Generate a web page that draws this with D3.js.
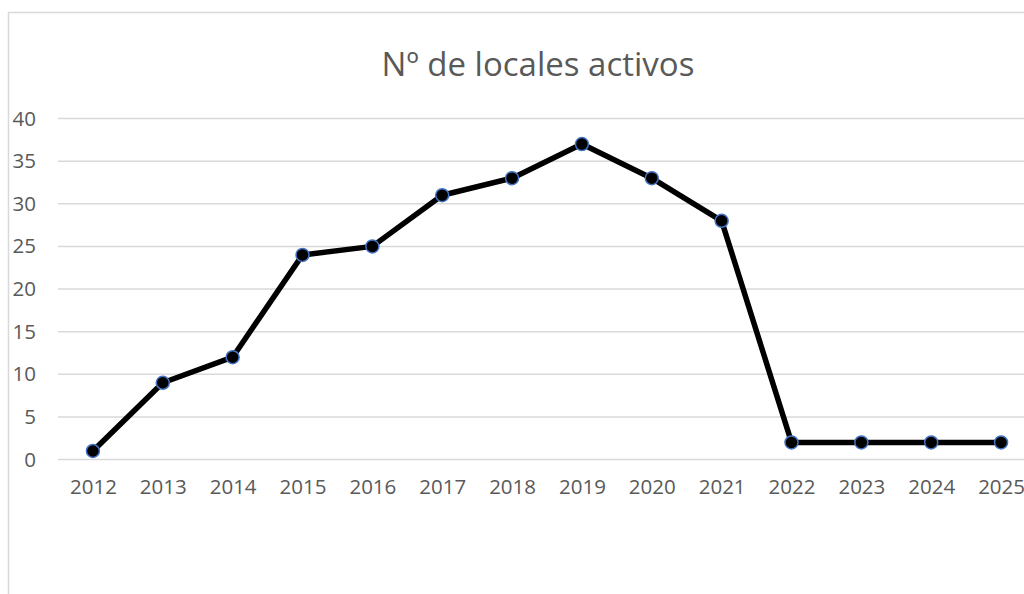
<!DOCTYPE html>
<html>
<head>
<meta charset="utf-8">
<script src="https://cdn.jsdelivr.net/npm/d3@7"></script>
<style>
  body { margin: 0; background: #fff; }
  svg { display: block; font-family: "Open Sans", sans-serif; }
</style>
</head>
<body>
<div id="chart"></div>
<script>
const years = ["2012", "2013", "2014", "2015", "2016", "2017", "2018", "2019", "2020", "2021", "2022", "2023", "2024", "2025"];
const locales = [1, 9, 12, 24, 25, 31, 33, 37, 33, 28, 2, 2, 2, 2];
const yTicks = [0, 5, 10, 15, 20, 25, 30, 35, 40];
const title = "Nº de locales activos";

const W = 1024, H = 594;
const margin = { top: 118.5, right: -12, bottom: 134.5, left: 58 };
const width = W - margin.left - margin.right;
const height = H - margin.top - margin.bottom;

const svg = d3.select("#chart").append("svg")
  .attr("width", W)
  .attr("height", H);

// chart area border (cropped on right/bottom)
svg.append("path")
  .attr("d", `M 8.5,${H} L 8.5,12.5 L ${W},12.5`)
  .attr("fill", "none")
  .attr("stroke", "#d9d9d9")
  .attr("stroke-width", 1.5);

svg.append("text")
  .attr("x", 538)
  .attr("y", 76)
  .attr("text-anchor", "middle")
  .style("font-size", "33px")
  .style("fill", "#595959")
  .text(title);

const g = svg.append("g").attr("transform", `translate(${margin.left},${margin.top})`);

const x = d3.scalePoint().domain(years).range([0, width]).padding(0.5);
const y = d3.scaleLinear().domain([0, 40]).range([height, 0]);

// gridlines
g.append("g")
  .selectAll("line")
  .data(yTicks)
  .join("line")
  .attr("x1", 0)
  .attr("x2", width)
  .attr("y1", (d) => y(d))
  .attr("y2", (d) => y(d))
  .attr("stroke", "#d9d9d9")
  .attr("stroke-width", 1.5);

const yAxis = d3.axisLeft(y).tickValues(yTicks).tickSize(0).tickPadding(22);
g.append("g").call(yAxis)
  .call((s) => s.select(".domain").remove())
  .selectAll("text")
  .style("font-size", "20.5px")
  .style("font-family", "Open Sans, sans-serif")
  .attr("fill", "#595959");

const xAxis = d3.axisBottom(x).tickSize(0).tickPadding(20);
g.append("g")
  .attr("transform", `translate(0,${height})`)
  .call(xAxis)
  .call((s) => s.select(".domain").remove())
  .selectAll("text")
  .style("font-size", "20.5px")
  .style("font-family", "Open Sans, sans-serif")
  .attr("fill", "#595959");

const line = d3.line()
  .x((d, i) => x(years[i]))
  .y((d) => y(d));

g.append("path")
  .datum(locales)
  .attr("d", line)
  .attr("fill", "none")
  .attr("stroke", "#000")
  .attr("stroke-width", 5.5)
  .attr("stroke-linejoin", "round");

g.selectAll(".pt")
  .data(locales)
  .join("circle")
  .attr("class", "pt")
  .attr("cx", (d, i) => x(years[i]))
  .attr("cy", (d) => y(d))
  .attr("r", 6.5)
  .attr("fill", "#000")
  .attr("stroke", "#4472c4")
  .attr("stroke-width", 1.5);
</script>
</body>
</html>
